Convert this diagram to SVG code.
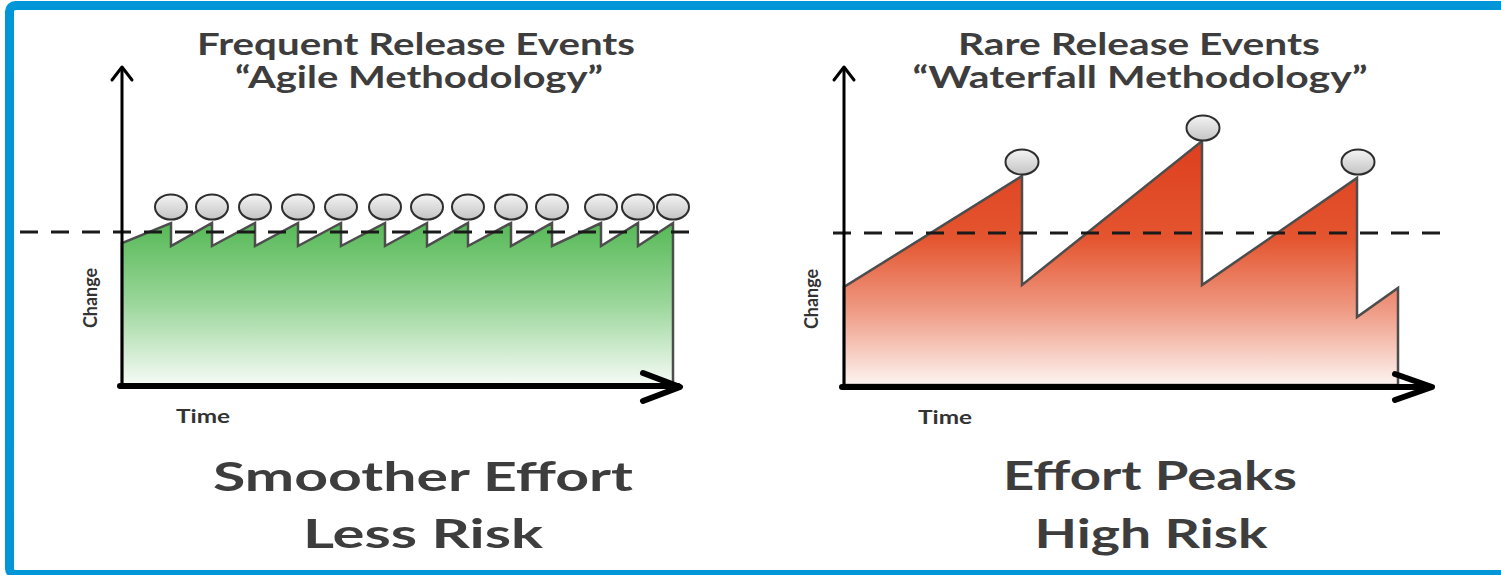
<svg xmlns="http://www.w3.org/2000/svg" width="1501" height="575" viewBox="0 0 1501 575">
<style>
.t{font-family:Lato,"Open Sans","Liberation Sans",sans-serif;fill:#3d3d3d;text-anchor:middle;font-weight:700}
.title{font-size:30px}
.big{font-size:40px}
.ax{font-size:19px;fill:#333}
.axis{stroke:#000;fill:none;stroke-linecap:round;stroke-linejoin:round}
.dash{stroke:#1a1a1a;stroke-width:3;stroke-dasharray:18 13;fill:none}
.ev{fill:url(#cg);stroke:#2e2e2e;stroke-width:2}
.area{stroke:#4d4d4d;stroke-width:2.5;stroke-linejoin:miter}
</style>
<defs>
<linearGradient id="gg" gradientUnits="userSpaceOnUse" x1="0" y1="223" x2="0" y2="385">
<stop offset="0" stop-color="#56b956"/>
<stop offset="0.5" stop-color="#9bd69b"/>
<stop offset="1" stop-color="#f6fbf6"/>
</linearGradient>
<linearGradient id="rg" gradientUnits="userSpaceOnUse" x1="0" y1="141" x2="0" y2="385">
<stop offset="0" stop-color="#dd3f1e"/>
<stop offset="0.4" stop-color="#e4552f"/>
<stop offset="0.7" stop-color="#ef9c86"/>
<stop offset="1" stop-color="#fdf4f1"/>
</linearGradient>
<linearGradient id="cg" x1="0" y1="0" x2="0" y2="1">
<stop offset="0" stop-color="#f4f4f4"/>
<stop offset="1" stop-color="#c4c4c4"/>
</linearGradient>
</defs>
<rect width="1501" height="575" fill="#fff"/>
<rect id="frame" x="9.5" y="5.5" width="1600" height="569" rx="6" fill="none" stroke="#0096d8" stroke-width="9"/>

<g id="agile">
<text class="t title" x="416" y="55" textLength="438" lengthAdjust="spacingAndGlyphs">Frequent Release Events</text>
<text class="t title" x="419" y="88" textLength="368" lengthAdjust="spacingAndGlyphs">“Agile Methodology”</text>
<path id="agile-area" class="area" fill="url(#gg)" d="M122,385 L122,243 L171,223 L171,246 L212,223 L212,246 L255,223 L255,246 L298,223 L298,246 L341,223 L341,246 L385,223 L385,246 L427,223 L427,246 L468,223 L468,246 L511,223 L511,246 L552,223 L552,246 L601,223 L601,246 L638,223 L638,246 L673,223 L673,385 Z"/>
<line class="dash" x1="20" y1="232" x2="690" y2="232"/>
<g id="agile-events">
<ellipse class="ev" cx="171" cy="207" rx="16" ry="12.5"/>
<ellipse class="ev" cx="212" cy="207" rx="16" ry="12.5"/>
<ellipse class="ev" cx="255" cy="207" rx="16" ry="12.5"/>
<ellipse class="ev" cx="298" cy="207" rx="16" ry="12.5"/>
<ellipse class="ev" cx="341" cy="207" rx="16" ry="12.5"/>
<ellipse class="ev" cx="385" cy="207" rx="16" ry="12.5"/>
<ellipse class="ev" cx="427" cy="207" rx="16" ry="12.5"/>
<ellipse class="ev" cx="468" cy="207" rx="16" ry="12.5"/>
<ellipse class="ev" cx="511" cy="207" rx="16" ry="12.5"/>
<ellipse class="ev" cx="552" cy="207" rx="16" ry="12.5"/>
<ellipse class="ev" cx="601" cy="207" rx="16" ry="12.5"/>
<ellipse class="ev" cx="638" cy="207" rx="16" ry="12.5"/>
<ellipse class="ev" cx="673" cy="207" rx="16" ry="12.5"/>
</g>
<g id="agile-axes">
<line class="axis" x1="122" y1="386" x2="122" y2="69" stroke-width="3"/>
<polyline class="axis" points="112,80 122,67 132,80" stroke-width="3"/>
<line class="axis" x1="120" y1="386" x2="678" y2="386" stroke-width="6"/>
<polyline class="axis" points="643,373 680,387 643,401" stroke-width="6"/>
</g>
<text class="t ax" transform="translate(97,298) rotate(-90)" textLength="60" lengthAdjust="spacingAndGlyphs">Change</text>
<text class="t ax" x="203" y="423" textLength="54" lengthAdjust="spacingAndGlyphs">Time</text>
<text class="t big" x="423" y="491" textLength="420" lengthAdjust="spacingAndGlyphs">Smoother Effort</text>
<text class="t big" x="423" y="548" textLength="240" lengthAdjust="spacingAndGlyphs">Less Risk</text>
</g>

<g id="waterfall">
<text class="t title" x="1139" y="55" textLength="362" lengthAdjust="spacingAndGlyphs">Rare Release Events</text>
<text class="t title" x="1140" y="88" textLength="455" lengthAdjust="spacingAndGlyphs">“Waterfall Methodology”</text>
<path id="waterfall-area" class="area" fill="url(#rg)" d="M844,385 L844,287 L1022,176 L1022,285 L1202,141 L1202,285 L1357,178 L1357,317 L1398,288 L1398,385 Z"/>
<line class="dash" x1="833" y1="233" x2="1445" y2="233"/>
<g id="waterfall-events">
<ellipse class="ev" cx="1022" cy="162" rx="16.5" ry="12.5"/>
<ellipse class="ev" cx="1203" cy="128" rx="16.5" ry="12.5"/>
<ellipse class="ev" cx="1358" cy="162" rx="16.5" ry="12.5"/>
</g>
<g id="waterfall-axes">
<line class="axis" x1="844" y1="387" x2="844" y2="69" stroke-width="3"/>
<polyline class="axis" points="834,80 844,67 854,80" stroke-width="3"/>
<line class="axis" x1="842" y1="387" x2="1430" y2="387" stroke-width="6"/>
<polyline class="axis" points="1395,374 1432,387 1395,400" stroke-width="6"/>
</g>
<text class="t ax" transform="translate(818,299) rotate(-90)" textLength="60" lengthAdjust="spacingAndGlyphs">Change</text>
<text class="t ax" x="945" y="424" textLength="54" lengthAdjust="spacingAndGlyphs">Time</text>
<text class="t big" x="1150" y="490" textLength="294" lengthAdjust="spacingAndGlyphs">Effort Peaks</text>
<text class="t big" x="1151" y="548" textLength="233" lengthAdjust="spacingAndGlyphs">High Risk</text>
</g>
</svg>
